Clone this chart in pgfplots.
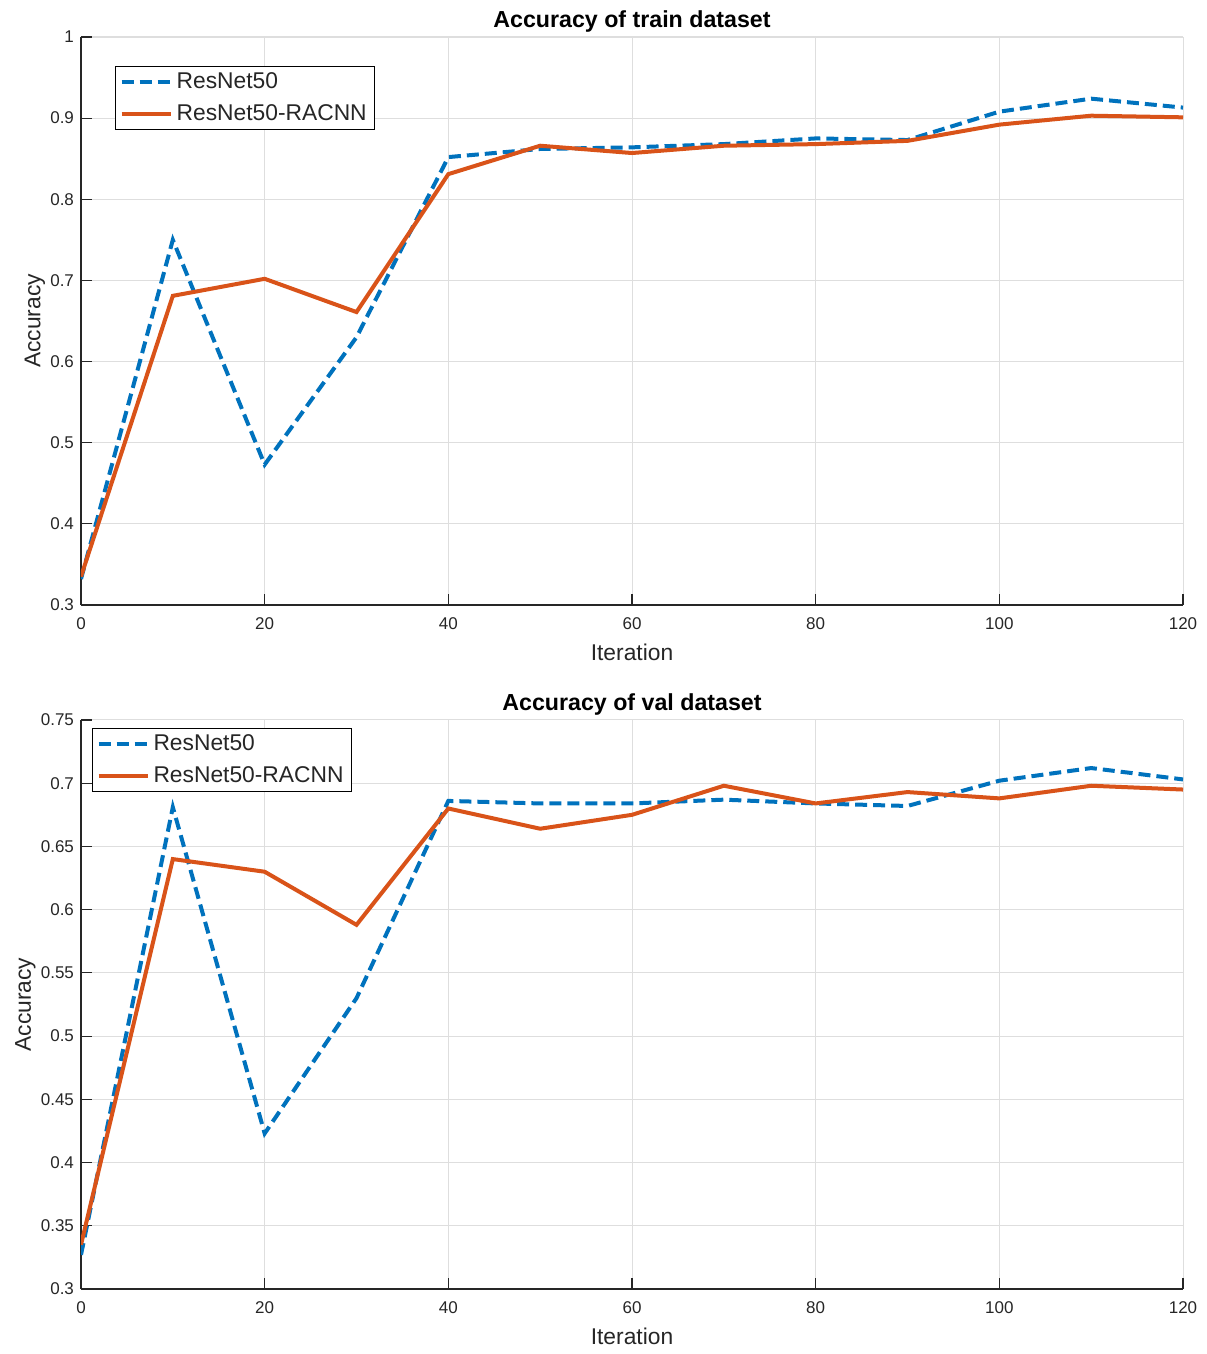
\documentclass[border=0pt]{standalone}
\usepackage{fontspec}
\setmainfont{Liberation Sans}
\usepackage{pgfplots}
\pgfplotsset{compat=1.18}
\definecolor{mblue}{rgb}{0,0.447,0.741}
\definecolor{morange}{rgb}{0.85,0.325,0.098}
\definecolor{txtgray}{rgb}{0.15,0.15,0.15}
\definecolor{gridgray}{rgb}{0.87,0.87,0.87}
\pgfplotsset{
  mystyle/.style={
    scale only axis,
    width=551pt,
    anchor=south west,
    axis lines=left,
    axis line style={-, color=txtgray, line width=0.6pt},
    tick align=inside,
    major tick length=5.5pt,
    tick style={color=txtgray, line width=0.6pt},
    grid=major,
    major grid style={color=gridgray, line width=0.5pt},
    xmin=0, xmax=120,
    xtick={0,20,40,60,80,100,120},
    /pgf/number format/assume math mode=true,
    ticklabel style={font=\fontsize{8.5}{10}\selectfont, text=txtgray},
    xticklabel style={yshift=-3pt},
    label style={font=\fontsize{11.4}{13}\selectfont, text=txtgray},
    ylabel style={yshift=-4.3pt},
    title style={font=\fontsize{11.6}{13}\selectfont\bfseries, text=black, yshift=-7pt},
    xlabel={Iteration},
    ylabel={Accuracy},
    legend cell align=left,
    legend image code/.code={\draw[#1] plot coordinates {(0pt,0pt) (24.5pt,0pt)};},
    legend style={draw=black, line width=0.5pt, inner xsep=2pt, inner ysep=1pt,
      row sep=2.5pt,
      font=\fontsize{11.4}{13}\selectfont, text=txtgray,
      nodes={inner sep=2pt}},
  },
  resstyle/.style={color=mblue, line width=2pt, dash pattern=on 6pt off 3pt},
  racstyle/.style={color=morange, line width=2pt},
}
\begin{document}
\begin{tikzpicture}
\useasboundingbox (0pt,0pt) rectangle (603pt,677pt);
\begin{axis}[mystyle,
  at={(40.5pt,374.5pt)}, height=284pt,
  ymin=0.3, ymax=1,
  ytick={0.3,0.4,0.5,0.6,0.7,0.8,0.9,1},
  title={Accuracy of train dataset},
  legend style={at={(0.031,0.949)}, anchor=north west},
]
\addplot[resstyle] coordinates {(0,0.332) (10,0.750) (20,0.473) (30,0.630) (40,0.852) (50,0.862) (60,0.864) (70,0.868) (80,0.875) (90,0.873) (100,0.908) (110,0.924) (120,0.913)};
\addlegendentry{ResNet50}
\addplot[racstyle] coordinates {(0,0.335) (10,0.681) (20,0.702) (30,0.661) (40,0.831) (50,0.866) (60,0.857) (70,0.866) (80,0.868) (90,0.872) (100,0.892) (110,0.903) (120,0.901)};
\addlegendentry{ResNet50-RACNN}
\end{axis}
\begin{axis}[mystyle,
  at={(40.5pt,32.5pt)}, height=284.5pt,
  ymin=0.3, ymax=0.75,
  ytick={0.3,0.35,0.4,0.45,0.5,0.55,0.6,0.65,0.7,0.75},
  title={Accuracy of val dataset},
  legend style={at={(0.010,0.986)}, anchor=north west},
]
\addplot[resstyle] coordinates {(0,0.327) (10,0.681) (20,0.423) (30,0.530) (40,0.686) (50,0.684) (60,0.684) (70,0.687) (80,0.684) (90,0.682) (100,0.702) (110,0.712) (120,0.703)};
\addlegendentry{ResNet50}
\addplot[racstyle] coordinates {(0,0.335) (10,0.640) (20,0.630) (30,0.588) (40,0.680) (50,0.664) (60,0.675) (70,0.698) (80,0.684) (90,0.693) (100,0.688) (110,0.698) (120,0.695)};
\addlegendentry{ResNet50-RACNN}
\end{axis}
\end{tikzpicture}
\end{document}
